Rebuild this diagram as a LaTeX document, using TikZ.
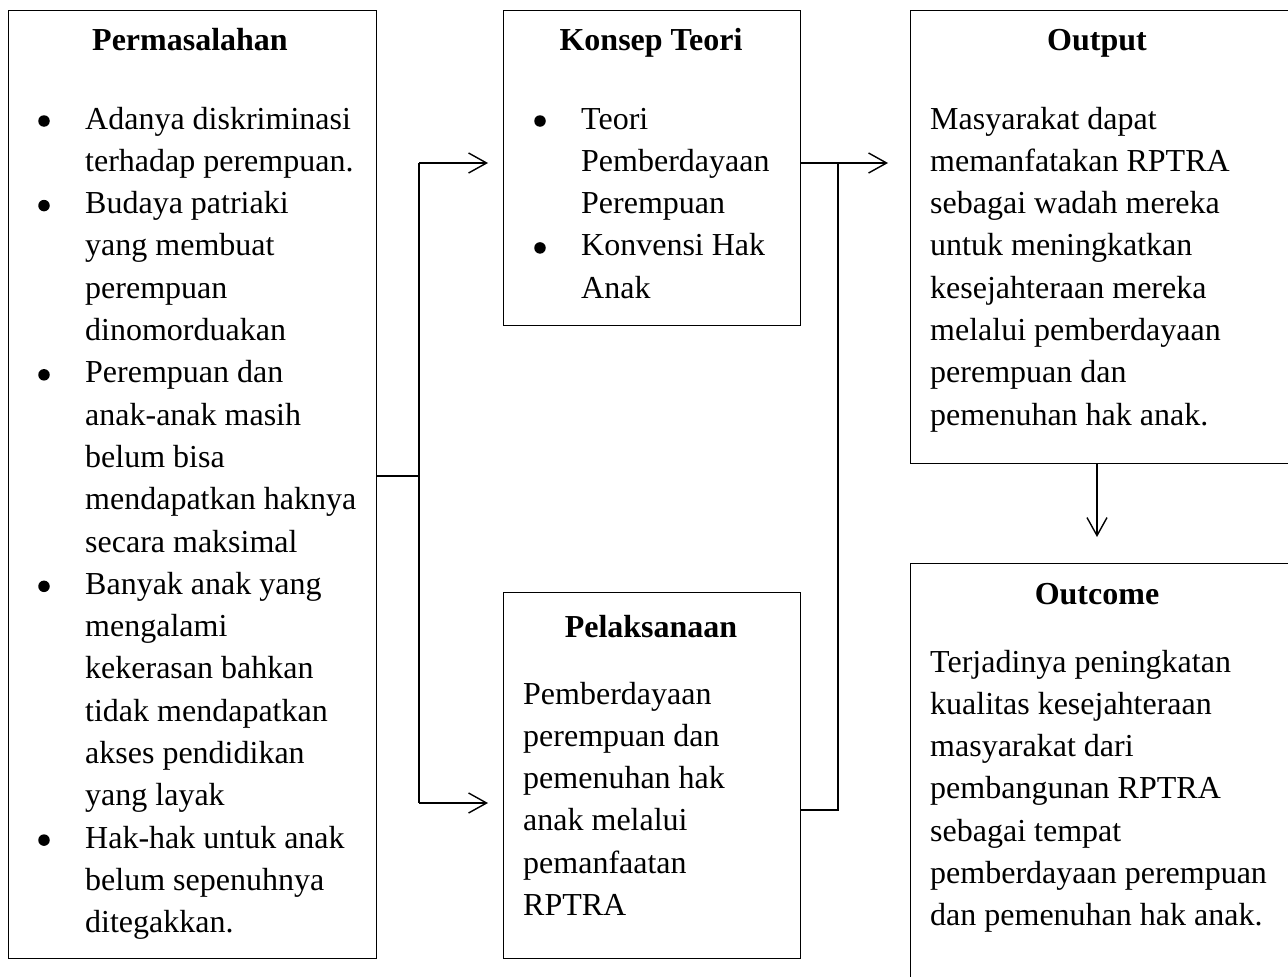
\documentclass[tikz,border=0pt]{standalone}
\usepackage{fontspec}
\setmainfont{Liberation Serif}
\usetikzlibrary{arrows.meta}
\begin{document}
\begin{tikzpicture}[x=1pt,y=-1pt,
  box/.style={draw, line width=1.4pt, inner sep=0pt, anchor=north west},
  ln/.style={anchor=base west, inner sep=0pt, font=\fontsize{32}{40}\selectfont},
  ttl/.style={anchor=base, inner sep=0pt, font=\fontsize{32}{40}\selectfont\bfseries},
  bul/.style={circle, fill=black, inner sep=0pt, minimum size=11.5pt},
  con/.style={line width=1.4pt},
  arr/.style={con, -{Straight Barb[length=18pt,width=20pt,line width=1.4pt]}}]
\useasboundingbox (0,0) rectangle (1288,977);
\clip (0,0) rectangle (1288,977);

% boxes
\node[box, minimum width=368pt, minimum height=948pt] (perm) at (8,10) {};
\node[box, minimum width=297pt, minimum height=315pt] (kt) at (503,10) {};
\node[box, minimum width=297pt, minimum height=366pt] (pel) at (503,592) {};
\node[box, minimum width=400pt, minimum height=453pt] (out) at (910,10) {};
\node[box, minimum width=400pt, minimum height=450pt] (outc) at (910,563) {};

% titles
\node[ttl] (tperm) at (190,50) {Permasalahan};
\node[ttl] (tkt) at (651,50) {Konsep Teori};
\node[ttl] (tpel) at (651,637) {Pelaksanaan};
\node[ttl] (tout) at (1097,50) {Output};
\node[ttl] (toutc) at (1097,604) {Outcome};

% Permasalahan
\foreach \t [count=\i from 0] in {Adanya diskriminasi, terhadap perempuan., Budaya patriaki, yang membuat, perempuan, dinomorduakan, Perempuan dan, anak-anak masih, belum bisa, mendapatkan haknya, secara maksimal, Banyak anak yang, mengalami, kekerasan bahkan, tidak mendapatkan, akses pendidikan, yang layak, Hak-hak untuk anak, belum sepenuhnya, ditegakkan.}
  \node[ln] (p\i) at (85,{129+42.3*\i}) {\t};
\foreach \i in {0,2,6,11,17}
  \node[bul] (pb\i) at (44,{121+42.3*\i}) {};

% Konsep Teori
\foreach \t [count=\i from 0] in {Teori, Pemberdayaan, Perempuan, Konvensi Hak, Anak}
  \node[ln] (k\i) at (581,{129+42.3*\i}) {\t};
\foreach \i in {0,3}
  \node[bul] (kb\i) at (540,{121+42.3*\i}) {};

% Pelaksanaan
\foreach \t [count=\i from 0] in {Pemberdayaan, perempuan dan, pemenuhan hak, anak melalui, pemanfaatan, RPTRA}
  \node[ln] (l\i) at (523,{704+42.3*\i}) {\t};

% Output
\foreach \t [count=\i from 0] in {Masyarakat dapat, memanfatakan RPTRA, sebagai wadah mereka, untuk meningkatkan, kesejahteraan mereka, melalui pemberdayaan, perempuan dan, pemenuhan hak anak.}
  \node[ln] (o\i) at (930,{129+42.3*\i}) {\t};

% Outcome
\foreach \t [count=\i from 0] in {Terjadinya peningkatan, kualitas kesejahteraan, masyarakat dari, pembangunan RPTRA, sebagai tempat, pemberdayaan perempuan, dan pemenuhan hak anak.}
  \node[ln] (c\i) at (930,{672+42.3*\i}) {\t};

% connectors
\coordinate (j1) at (419,476);
\coordinate (t1) at (419,163);
\coordinate (b1) at (419,803);
\draw[con] (perm.east |- j1) -- (j1);
\draw[con] (t1) -- (b1);
\draw[arr, shorten >=15pt] (t1) -- (kt.west |- t1);
\draw[arr, shorten >=15pt] (b1) -- (pel.west |- b1);

\coordinate (t2) at (838,163);
\coordinate (b2) at (838,810);
\draw[con] (kt.east |- t2) -- (t2);
\draw[con] (pel.east |- b2) -- (b2) -- (t2);
\draw[arr, shorten >=22pt] (t2) -- (out.west |- t2);

\coordinate (d1) at (1097,463);
\draw[arr, shorten >=26pt] (d1) -- (outc.north -| d1);
\end{tikzpicture}
\end{document}
